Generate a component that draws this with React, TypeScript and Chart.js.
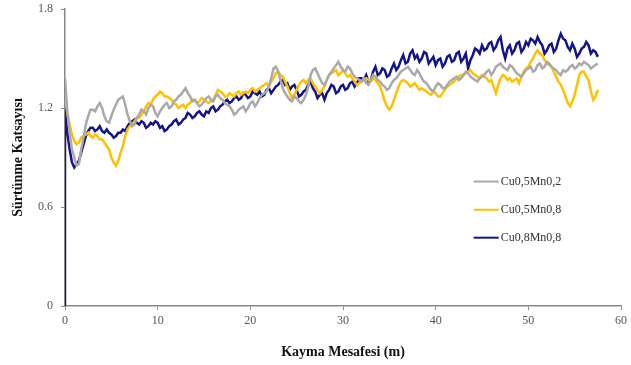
import React, { useEffect, useRef } from "react";
import { Chart, registerables } from "chart.js";

Chart.register(...registerables);

const distances = [
  0, 0.5, 1, 1.5, 2, 2.5, 3, 3.5, 4, 4.5, 5, 5.5, 6, 6.5, 7, 7.5, 8, 8.5, 9, 9.5,
  10, 10.5, 11, 11.5, 12, 12.5, 13, 13.5, 14, 14.5, 15, 15.5, 16, 16.5, 17, 17.5, 18, 18.5, 19, 19.5,
  20, 20.5, 21, 21.5, 22, 22.5, 23, 23.5, 24, 24.5, 25, 25.5, 26, 26.5, 27, 27.5, 28, 28.5, 29, 29.5,
  30, 30.5, 31, 31.5, 32, 32.5, 33, 33.5, 34, 34.5, 35, 35.5, 36, 36.5, 37, 37.5, 38, 38.5, 39, 39.5,
  40, 40.5, 41, 41.5, 42, 42.5, 43, 43.5, 44, 44.5, 45, 45.5, 46, 46.5, 47, 47.5, 48, 48.5, 49, 49.5,
  50, 50.5, 51, 51.5, 52, 52.5, 53, 53.5, 54, 54.5, 55, 55.5, 56, 56.5, 57, 57.5,
];

// samples at the listed distances
const cu05mn02 = [
  1.38, 1.05, 0.90, 0.86, 1.02, 1.15, 1.19, 1.21, 1.20, 1.12, 1.15, 1.22, 1.26, 1.22, 1.12, 1.10, 1.16, 1.18, 1.20, 1.21,
  1.15, 1.20, 1.23, 1.21, 1.25, 1.28, 1.32, 1.27, 1.25, 1.21, 1.24, 1.27, 1.24, 1.28, 1.25, 1.22, 1.19, 1.17, 1.20, 1.18,
  1.23, 1.21, 1.26, 1.29, 1.33, 1.44, 1.42, 1.32, 1.27, 1.24, 1.26, 1.23, 1.28, 1.40, 1.44, 1.38, 1.34, 1.40, 1.44, 1.48,
  1.43, 1.45, 1.41, 1.38, 1.36, 1.35, 1.37, 1.39, 1.36, 1.33, 1.32, 1.37, 1.40, 1.43, 1.45, 1.41, 1.43, 1.38, 1.35, 1.31,
  1.33, 1.34, 1.32, 1.36, 1.38, 1.37, 1.40, 1.41, 1.38, 1.36, 1.39, 1.42, 1.40, 1.45, 1.47, 1.44, 1.46, 1.43, 1.40, 1.41,
  1.44, 1.42, 1.46, 1.44, 1.48, 1.45, 1.43, 1.40, 1.42, 1.45, 1.44, 1.47, 1.48, 1.46, 1.45, 1.47,
];
// samples halfway between consecutive distances
const cu05mn02Mid = [
  1.18, 0.95, 0.85, 0.95, 1.10, 1.19, 1.18, 1.23, 1.15, 1.11, 1.19, 1.25, 1.27, 1.16, 1.09, 1.14, 1.19, 1.16, 1.22, 1.17,
  1.18, 1.22, 1.20, 1.24, 1.27, 1.30, 1.29, 1.24, 1.23, 1.22, 1.26, 1.25, 1.27, 1.26, 1.23, 1.21, 1.16, 1.19, 1.21, 1.20,
  1.24, 1.23, 1.28, 1.30, 1.38, 1.45, 1.37, 1.29, 1.25, 1.27, 1.24, 1.25, 1.33, 1.43, 1.41, 1.35, 1.37, 1.42, 1.46, 1.45,
  1.42, 1.44, 1.39, 1.37, 1.38, 1.34, 1.40, 1.37, 1.34, 1.31, 1.35, 1.38, 1.42, 1.44, 1.43, 1.40, 1.41, 1.36, 1.33, 1.30,
  1.35, 1.32, 1.34, 1.37, 1.39, 1.38, 1.42, 1.39, 1.37, 1.38, 1.40, 1.43, 1.42, 1.46, 1.45, 1.43, 1.45, 1.41, 1.39, 1.43,
  1.45, 1.43, 1.47, 1.45, 1.47, 1.44, 1.41, 1.43, 1.43, 1.46, 1.45, 1.46, 1.47, 1.44, 1.46,
];

const cu05mn08 = [
  1.27, 1.10, 1.00, 0.99, 1.03, 1.05, 1.02, 1.03, 1.01, 0.97, 0.90, 0.85, 0.93, 1.03, 1.09, 1.12, 1.14, 1.18, 1.23, 1.25,
  1.28, 1.29, 1.27, 1.25, 1.22, 1.21, 1.20, 1.23, 1.25, 1.24, 1.25, 1.23, 1.25, 1.31, 1.29, 1.27, 1.28, 1.29, 1.28, 1.30,
  1.31, 1.30, 1.32, 1.34, 1.33, 1.38, 1.42, 1.39, 1.33, 1.26, 1.31, 1.36, 1.35, 1.38, 1.33, 1.29, 1.33, 1.40, 1.42, 1.40,
  1.43, 1.39, 1.38, 1.34, 1.36, 1.38, 1.36, 1.37, 1.33, 1.24, 1.19, 1.25, 1.33, 1.37, 1.35, 1.34, 1.33, 1.32, 1.30, 1.28,
  1.29, 1.27, 1.31, 1.34, 1.36, 1.39, 1.40, 1.42, 1.41, 1.39, 1.40, 1.38, 1.37, 1.29, 1.38, 1.39, 1.38, 1.37, 1.35, 1.42,
  1.45, 1.50, 1.55, 1.52, 1.47, 1.45, 1.39, 1.34, 1.27, 1.21, 1.28, 1.40, 1.42, 1.37, 1.25, 1.31,
];
const cu05mn08Mid = [
  1.17, 1.04, 0.98, 1.02, 1.04, 1.03, 1.04, 1.01, 0.99, 0.95, 0.87, 0.88, 0.97, 1.07, 1.10, 1.14, 1.16, 1.21, 1.22, 1.27,
  1.30, 1.27, 1.26, 1.23, 1.20, 1.22, 1.22, 1.25, 1.23, 1.26, 1.24, 1.24, 1.28, 1.30, 1.27, 1.29, 1.27, 1.30, 1.29, 1.29,
  1.32, 1.31, 1.33, 1.35, 1.36, 1.41, 1.40, 1.36, 1.29, 1.28, 1.34, 1.37, 1.37, 1.35, 1.31, 1.31, 1.37, 1.41, 1.43, 1.41,
  1.41, 1.40, 1.36, 1.35, 1.37, 1.37, 1.38, 1.35, 1.29, 1.21, 1.21, 1.29, 1.36, 1.36, 1.33, 1.35, 1.31, 1.31, 1.29, 1.30,
  1.27, 1.29, 1.33, 1.35, 1.38, 1.40, 1.41, 1.43, 1.40, 1.38, 1.39, 1.36, 1.33, 1.34, 1.40, 1.37, 1.36, 1.38, 1.39, 1.44,
  1.48, 1.53, 1.53, 1.49, 1.46, 1.42, 1.36, 1.31, 1.23, 1.24, 1.34, 1.42, 1.39, 1.30, 1.27,
];

const cu08mn08StartX = [0];
const cu08mn08StartY = [0];
const cu08mn08 = [
  1.20, 0.95, 0.84, 0.88, 0.98, 1.06, 1.08, 1.07, 1.06, 1.07, 1.04, 1.03, 1.05, 1.06, 1.11, 1.13, 1.10, 1.11, 1.09, 1.10,
  1.11, 1.09, 1.07, 1.10, 1.13, 1.11, 1.14, 1.16, 1.15, 1.18, 1.15, 1.17, 1.21, 1.19, 1.22, 1.25, 1.24, 1.27, 1.26, 1.28,
  1.27, 1.29, 1.30, 1.28, 1.32, 1.31, 1.34, 1.37, 1.35, 1.33, 1.31, 1.28, 1.31, 1.36, 1.30, 1.28, 1.25, 1.31, 1.33, 1.30,
  1.34, 1.32, 1.36, 1.35, 1.38, 1.40, 1.37, 1.45, 1.41, 1.43, 1.40, 1.47, 1.45, 1.52, 1.48, 1.55, 1.52, 1.50, 1.53, 1.49,
  1.46, 1.50, 1.47, 1.52, 1.49, 1.54, 1.50, 1.44, 1.52, 1.55, 1.58, 1.56, 1.60, 1.57, 1.63, 1.50, 1.58, 1.55, 1.60, 1.56,
  1.58, 1.61, 1.63, 1.58, 1.55, 1.59, 1.56, 1.65, 1.61, 1.55, 1.56, 1.53, 1.57, 1.58, 1.55, 1.51,
];
const cu08mn08Mid = [
  1.05, 0.87, 0.86, 0.93, 1.03, 1.08, 1.06, 1.09, 1.05, 1.05, 1.02, 1.05, 1.07, 1.09, 1.12, 1.11, 1.12, 1.08, 1.11, 1.12,
  1.08, 1.06, 1.09, 1.12, 1.10, 1.13, 1.17, 1.14, 1.17, 1.16, 1.18, 1.20, 1.18, 1.21, 1.24, 1.23, 1.26, 1.25, 1.29, 1.26,
  1.30, 1.28, 1.27, 1.31, 1.29, 1.33, 1.36, 1.34, 1.31, 1.34, 1.27, 1.30, 1.34, 1.32, 1.26, 1.29, 1.29, 1.34, 1.29, 1.33,
  1.31, 1.35, 1.33, 1.38, 1.37, 1.36, 1.42, 1.40, 1.44, 1.39, 1.44, 1.43, 1.49, 1.47, 1.53, 1.50, 1.48, 1.54, 1.47, 1.51,
  1.49, 1.45, 1.51, 1.48, 1.53, 1.48, 1.53, 1.49, 1.56, 1.53, 1.55, 1.59, 1.55, 1.61, 1.55, 1.56, 1.53, 1.59, 1.54, 1.60,
  1.62, 1.59, 1.60, 1.53, 1.58, 1.54, 1.61, 1.62, 1.57, 1.59, 1.51, 1.56, 1.60, 1.53, 1.54,
];

const seriesNames = ["Cu0,5Mn0,2", "Cu0,5Mn0,8", "Cu0,8Mn0,8"];
const seriesColors = ["#A9A9A9", "#FFC000", "#14148A"];
const xTicks = [0, 10, 20, 30, 40, 50, 60];
const yTicks = [0, 0.6, 1.2, 1.8];

const interleave = (xs: number[], ys: number[], mids: number[]) => {
  const pts: { x: number; y: number }[] = [];
  ys.forEach((y, i) => {
    pts.push({ x: xs[i], y });
    if (i < mids.length && i + 1 < xs.length) pts.push({ x: (xs[i] + xs[i + 1]) / 2, y: mids[i] });
  });
  return pts;
};

const legendPlugin = {
  id: "customLegend",
  afterDraw(chart: any) {
    const ctx = chart.ctx;
    const { left, right, top, bottom } = chart.chartArea;
    const w = right - left;
    const h = bottom - top;
    const x0 = left + w * 0.735;
    const rows = [0.581, 0.676, 0.77];
    ctx.save();
    ctx.font = "12px 'Liberation Serif', serif";
    ctx.textBaseline = "middle";
    ctx.textAlign = "left";
    seriesNames.forEach((name, i) => {
      const y = top + h * rows[i];
      ctx.strokeStyle = seriesColors[i];
      ctx.lineWidth = 2;
      ctx.beginPath();
      ctx.moveTo(x0, y);
      ctx.lineTo(x0 + 25, y);
      ctx.stroke();
      ctx.fillStyle = "#333333";
      ctx.fillText(name, x0 + 27, y);
    });
    ctx.restore();
  },
};

export default function App() {
  const ref = useRef<HTMLCanvasElement | null>(null);
  useEffect(() => {
    if (!ref.current) return;
    const bluePts = [
      ...cu08mn08StartX.map((x, i) => ({ x, y: cu08mn08StartY[i] })),
      ...interleave(distances, cu08mn08, cu08mn08Mid),
    ];
    const chart = new Chart(ref.current, {
      type: "line",
      data: {
        datasets: [
          { label: seriesNames[0], data: interleave(distances, cu05mn02, cu05mn02Mid), borderColor: seriesColors[0], borderWidth: 2.5, pointRadius: 0, tension: 0 },
          { label: seriesNames[1], data: interleave(distances, cu05mn08, cu05mn08Mid), borderColor: seriesColors[1], borderWidth: 2.5, pointRadius: 0, tension: 0 },
          { label: seriesNames[2], data: bluePts, borderColor: seriesColors[2], borderWidth: 2.5, pointRadius: 0, tension: 0 },
        ],
      },
      options: {
        responsive: false,
        animation: false,
        layout: { padding: { top: 9, right: 6, left: 0, bottom: 0 } },
        plugins: { legend: { display: false }, tooltip: { enabled: false } },
        scales: {
          x: {
            type: "linear",
            min: 0,
            max: 60,
            afterBuildTicks: (s: any) => { s.ticks = xTicks.map((v) => ({ value: v })); },
            afterFit: (s: any) => { s.height = 59; },
            grid: { display: true, drawOnChartArea: false, drawTicks: true, tickLength: 4, color: "#888888" },
            border: { color: "#888888", width: 1.5 },
            ticks: { color: "#555555", font: { family: "'Liberation Serif', serif", size: 12 }, padding: 4, maxRotation: 0 },
            title: { display: true, text: "Kayma Mesafesi (m)", color: "#111111", font: { family: "'Liberation Serif', serif", size: 14, weight: "bold" }, padding: { top: 8 } },
          },
          y: {
            min: 0,
            max: 1.8,
            afterBuildTicks: (s: any) => { s.ticks = yTicks.map((v) => ({ value: v })); },
            afterFit: (s: any) => { s.width = 65; s.paddingTop = 6; s.paddingBottom = 0; },
            grid: { display: true, drawOnChartArea: false, drawTicks: true, tickLength: 4, color: "#888888" },
            border: { color: "#888888", width: 1.5 },
            ticks: { color: "#555555", font: { family: "'Liberation Serif', serif", size: 12 }, padding: 8, callback: (v: any) => String(v) },
            title: { display: true, text: "Sürtünme Katsayısı", color: "#111111", font: { family: "'Liberation Serif', serif", size: 14, weight: "bold" }, padding: { top: 10, bottom: 4 } },
          },
        },
      },
      plugins: [legendPlugin],
    } as any);
    return () => chart.destroy();
  }, []);
  return (
    <div style={{ position: "fixed", left: 0, top: 0, width: 631, height: 365, background: "#fff" }}>
      <canvas ref={ref} width={631} height={365} />
    </div>
  );
}
